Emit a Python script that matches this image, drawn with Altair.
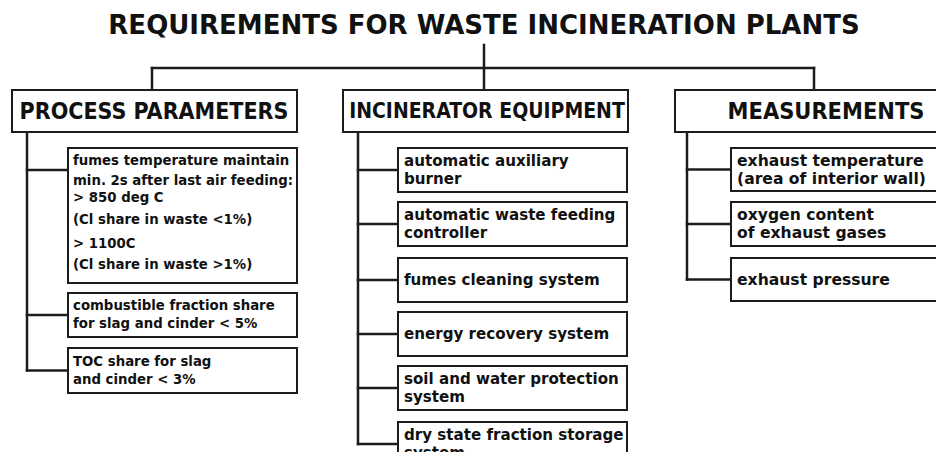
import altair as alt
import pandas as pd

# ---- content ----
TITLE = "REQUIREMENTS FOR WASTE INCINERATION PLANTS"
HEADERS = ["PROCESS PARAMETERS", "INCINERATOR EQUIPMENT", "MEASUREMENTS"]
PROCESS_ITEMS = [
    ["fumes temperature maintain", "min. 2s after last air feeding:", "> 850 deg C",
     "(Cl share in waste <1%)", "> 1100C", "(Cl share in waste >1%)"],
    ["combustible fraction share", "for slag and cinder < 5%"],
    ["TOC share for slag", "and cinder < 3%"],
]
EQUIPMENT_ITEMS = [
    ["automatic auxiliary", "burner"],
    ["automatic waste feeding", "controller"],
    ["fumes cleaning system"],
    ["energy recovery system"],
    ["soil and water protection", "system"],
    ["dry state fraction storage", "system"],
]
MEASUREMENT_ITEMS = [
    ["exhaust temperature", "(area of interior wall)"],
    ["oxygen content", "of exhaust gases"],
    ["exhaust pressure"],
]

# ---- layout (page pixel space) ----
W, H = 928, 444
XDOM = [8, 8 + W]
YDOM = [8, 8 + H]
INK = "#1c1c1c"
HEAD_FONT = "DejaVu Sans Condensed, Liberation Sans Narrow, DejaVu Sans"
BODY_FONT = "DejaVu Sans, Verdana, sans-serif"

ROOT_X, BAR_Y, HEAD_TOP, HEAD_BOT = 484, 68, 90, 132
columns = [
    dict(items=PROCESS_ITEMS, hx0=12, hx1=297, drop=152, trunk=27, bx0=68, bx1=297,
         tops=[148, 293, 348], heights=[135, 44, 45], tx=73, fs=13.3,
         hx=154, hsize=23),
    dict(items=EQUIPMENT_ITEMS, hx0=343, hx1=628, drop=484, trunk=358, bx0=398, bx1=627,
         tops=[148, 202, 258, 312, 366, 422], heights=[44] * 6, tx=404, fs=15.1,
         hx=487, hsize=21),
    dict(items=MEASUREMENT_ITEMS, hx0=675, hx1=980, drop=814, trunk=687, bx0=731, bx1=980,
         tops=[148, 202, 258], heights=[43, 44, 43], tx=737, fs=15.6,
         hx=826, hsize=23.4),
]
LONG_OFFSETS = [13, 33, 50, 72, 96, 117]

rects, rules, body, heads = [], [], [], []
rules.append(dict(x=ROOT_X, x2=ROOT_X, y=45, y2=BAR_Y))
rules.append(dict(x=columns[0]["drop"], x2=columns[-1]["drop"], y=BAR_Y, y2=BAR_Y))
for c, name in zip(columns, HEADERS):
    rules.append(dict(x=c["drop"], x2=c["drop"], y=BAR_Y, y2=HEAD_TOP))
    rects.append(dict(x=c["hx0"], x2=c["hx1"], y=HEAD_TOP, y2=HEAD_BOT))
    heads.append(dict(x=c["hx"], y=(HEAD_TOP + HEAD_BOT) / 2 + 1, text=name, size=c["hsize"]))
    conns = []
    for lines, top, h in zip(c["items"], c["tops"], c["heights"]):
        rects.append(dict(x=c["bx0"], x2=c["bx1"], y=top, y2=top + h))
        if len(lines) > 2:
            conn = top + 22
            ys = [top + o for o in LONG_OFFSETS]
        else:
            mid = top + h / 2
            conn = mid
            ys = [mid] if len(lines) == 1 else [mid - 9, mid + 9]
        conns.append(conn)
        rules.append(dict(x=c["trunk"], x2=c["bx0"], y=conn, y2=conn))
        for t, yy in zip(lines, ys):
            body.append(dict(x=c["tx"], y=yy, text=t, size=c["fs"]))
    rules.append(dict(x=c["trunk"], x2=c["trunk"], y=HEAD_BOT, y2=conns[-1]))

xs = alt.Scale(domain=XDOM, nice=False, zero=False)
ys_ = alt.Scale(domain=YDOM, nice=False, zero=False, reverse=True)
X = lambda f: alt.X(f, type="quantitative", scale=xs, axis=None)
Y = lambda f: alt.Y(f, type="quantitative", scale=ys_, axis=None)

rule_layer = alt.Chart(pd.DataFrame(rules)).mark_rule(
    color=INK, strokeWidth=2.5, clip=True, strokeCap="square"
).encode(x=X("x"), x2="x2", y=Y("y"), y2="y2")

rect_layer = alt.Chart(pd.DataFrame(rects)).mark_rect(
    fill="white", stroke=INK, strokeWidth=2, clip=True
).encode(x=X("x"), x2="x2", y=Y("y"), y2="y2")

head_layer = alt.Chart(pd.DataFrame(heads)).mark_text(
    font=HEAD_FONT, fontWeight="bold", align="center", baseline="middle", color="#111"
).encode(x=X("x"), y=Y("y"), text="text:N", size=alt.Size("size:Q", scale=None))

body_layer = alt.Chart(pd.DataFrame(body)).mark_text(
    font=BODY_FONT, fontWeight="bold", align="left", baseline="middle",
    color="#111", clip=True
).encode(x=X("x"), y=Y("y"), text="text:N", size=alt.Size("size:Q", scale=None))

title_layer = alt.Chart(pd.DataFrame([dict(x=484, y=26, text=TITLE)])).mark_text(
    font=BODY_FONT, fontWeight="bold", fontSize=26, align="center", baseline="middle",
    color="#111"
).encode(x=X("x"), y=Y("y"), text="text:N")

chart = alt.layer(rule_layer, rect_layer, head_layer, body_layer, title_layer).properties(
    width=W, height=H, padding=0, autosize="none", background="white"
).configure_view(stroke=None)

chart.save("out.html", embed_options={"renderer": "svg", "actions": False})
